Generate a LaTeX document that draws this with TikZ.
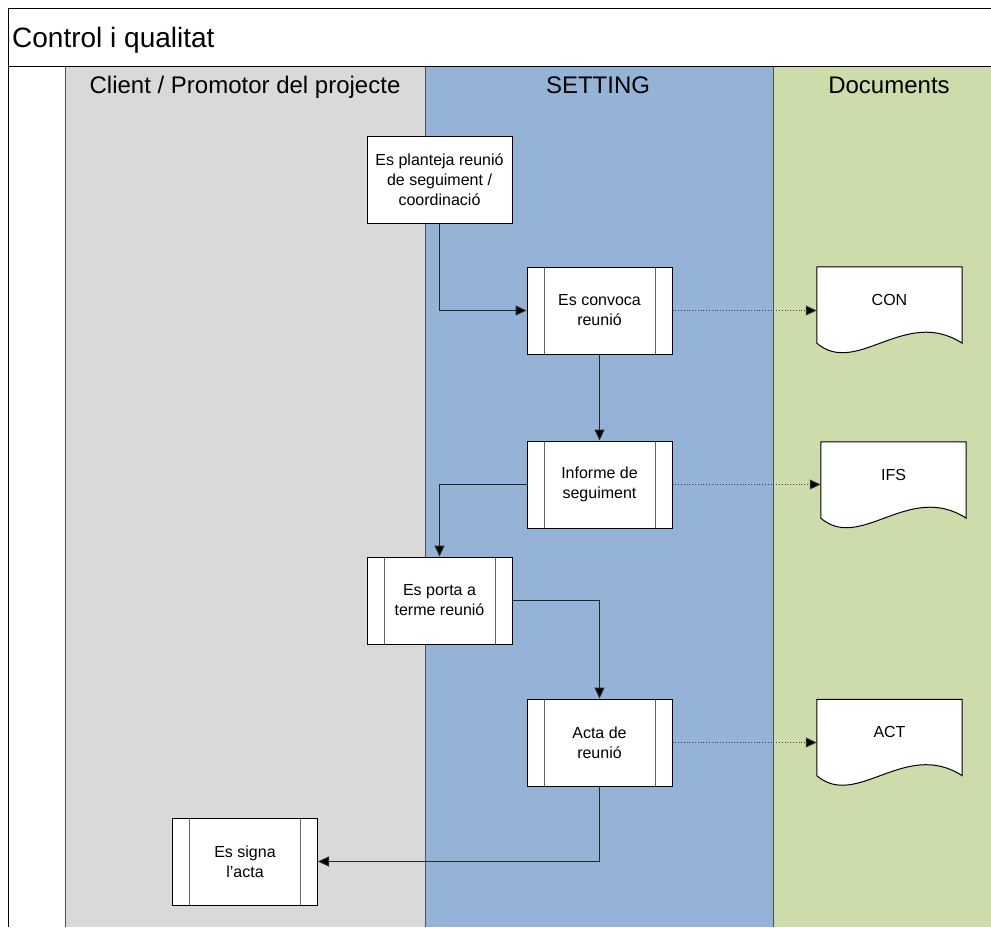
\documentclass[tikz,border=0pt]{standalone}
\usepackage{fontspec}
\setmainfont{Liberation Sans}
\usetikzlibrary{arrows.meta,calc}
\definecolor{lanegray}{RGB}{217,217,217}
\definecolor{laneblue}{RGB}{149,179,215}
\definecolor{lanegreen}{RGB}{204,220,170}
\definecolor{sepline}{RGB}{80,80,80}
\definecolor{innerline}{RGB}{100,100,100}
\tikzset{
  procbox/.style={draw=black, fill=white, line width=1pt, minimum width=145pt, minimum height=87pt,
    inner sep=0pt, align=center, font=\fontsize{16}{20}\selectfont},
  subproc/.style={procbox, path picture={
    \draw[innerline, line width=1pt] ([xshift=17pt]path picture bounding box.north west) -- ([xshift=17pt]path picture bounding box.south west);
    \draw[innerline, line width=1pt] ([xshift=-17pt]path picture bounding box.north east) -- ([xshift=-17pt]path picture bounding box.south east);}},
  docshape/.style={minimum width=145pt, minimum height=76pt, inner sep=0pt},
  docpath/.style={draw=black, fill=white, line width=1pt},
  doctext/.style={anchor=base, font=\fontsize{16}{20}\selectfont},
  flow/.style={draw=black!85, line width=1pt, -{Triangle[length=11pt,width=10pt,fill=black]}},
  docflow/.style={draw=black!75, line width=0.8pt, dotted, -{Triangle[length=11pt,width=10pt,fill=black,sep=0pt]}},
  headtext/.style={anchor=base, font=\fontsize{24}{28}\selectfont},
}
\begin{document}
\begin{tikzpicture}[x=1pt,y=-1pt]
\useasboundingbox (0,0) rectangle (991,927);
% lanes
\fill[white] (0,0) rectangle (991,927);
\fill[lanegray] (65,66) rectangle (425,927);
\fill[laneblue] (425,66) rectangle (773,927);
\fill[lanegreen] (773,66) rectangle (991,927);
\draw[sepline, line width=1pt] (65,66) -- (65,927) (425,66) -- (425,927) (773,66) -- (773,927);
% frame
\draw[black, line width=1pt] (991,8) -- (8,8) -- (8,927) (8,66) -- (991,66);
\node[anchor=base west, font=\fontsize{28}{32}\selectfont, inner sep=0pt] (title) at (12,47) {Control i qualitat};
\node[headtext] (h1) at (245,93) {Client / Promotor del projecte};
\node[headtext] (h2) at (598,93) {SETTING};
\node[headtext] (h3) at (889,93) {Documents};
% process boxes
\node[procbox] (plan) at (439.5,179.5) {Es planteja reunió\\de seguiment /\\coordinació};
\node[subproc] (conv) at (599.5,310.5) {Es convoca\\reunió};
\node[subproc] (inf) at (599.5,484.5) {Informe de\\seguiment};
\node[subproc] (porta) at (439.5,600.5) {Es porta a\\terme reunió};
\node[subproc] (acta) at (599.5,742.5) {Acta de\\reunió};
\node[subproc] (signa) at (245,861.5) {Es signa\\l’acta};
% documents
\node[docshape] (con) at (889.5,305) {};
\draw[docpath] (con.south west) -- (con.north west) -- (con.north east) -- (con.south east)
  .. controls ($(con.south east)+(-57,-37)$) and ($(con.south west)+(40,34)$) .. (con.south west) -- cycle;
\node[doctext] (contx) at (con.center) {CON};
\node[docshape] (ifs) at (893.5,480) {};
\draw[docpath] (ifs.south west) -- (ifs.north west) -- (ifs.north east) -- (ifs.south east)
  .. controls ($(ifs.south east)+(-57,-37)$) and ($(ifs.south west)+(40,34)$) .. (ifs.south west) -- cycle;
\node[doctext] (ifstx) at (ifs.center) {IFS};
\node[docshape] (act) at (889.5,737.5) {};
\draw[docpath] (act.south west) -- (act.north west) -- (act.north east) -- (act.south east)
  .. controls ($(act.south east)+(-57,-37)$) and ($(act.south west)+(40,34)$) .. (act.south west) -- cycle;
\node[doctext] (acttx) at (act.center) {ACT};
% flows
\draw[flow] (plan.south) |- (conv.west);
\draw[flow] (conv.south) -- (inf.north);
\draw[flow] (inf.west) -| (porta.north);
\draw[flow] (porta.east) -| (acta.north);
\draw[flow] (acta.south) |- (signa.east);
\draw[docflow] (conv.east) -- (conv.east -| con.west);
\draw[docflow] (inf.east) -- (inf.east -| ifs.west);
\draw[docflow] (acta.east) -- (acta.east -| act.west);
\end{tikzpicture}
\end{document}
